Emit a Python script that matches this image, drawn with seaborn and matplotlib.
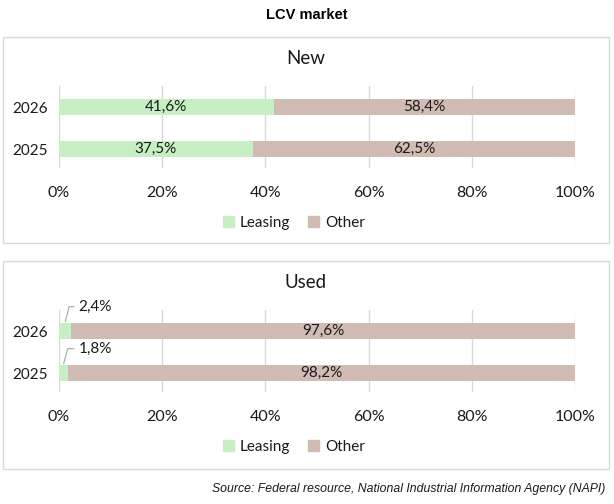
import matplotlib
matplotlib.use("Agg")
import matplotlib.pyplot as plt
from matplotlib.patches import Rectangle, Patch
import seaborn as sns
import pandas as pd

years = ["2026", "2025"]
new_leasing = [41.6, 37.5]
new_other = [58.4, 62.5]
used_leasing = [2.4, 1.8]
used_other = [97.6, 98.2]
x_ticks = [0, 20, 40, 60, 80, 100]

green_color = "#C6EFC3"
other_color = "#D0BCB5"
grid_color = "#D9D9D9"
text_color = "#1a1a1a"

sns.set_theme(style="white")
plt.rcParams["font.family"] = ["Lato", "DejaVu Sans"]

W, H = 614, 504
fig = plt.figure(figsize=(W / 100, H / 100), dpi=100)


def fx(px):
    return px / W


def fy(px):
    return 1 - px / H


def pct(v):
    return f"{v:.1f}%".replace(".", ",")


def panel(box_top, box_bot, title, leasing, other, small):
    fig.patches.append(Rectangle((fx(3), fy(box_bot)), fx(606), (box_bot - box_top) / H,
                                 transform=fig.transFigure, fill=False,
                                 edgecolor=grid_color, linewidth=1))
    ax_top = box_top + 49
    ax_bot = box_top + 131
    ax = fig.add_axes([fx(59), fy(ax_bot), fx(575 - 59), (ax_bot - ax_top) / H])
    df = pd.DataFrame({"year": years, "leasing": leasing, "other": other})
    df["total"] = df["leasing"] + df["other"]
    sns.barplot(data=df, x="total", y="year", order=years, orient="h",
                color=other_color, width=0.4, saturation=1, linewidth=0, ax=ax, zorder=2)
    sns.barplot(data=df, x="leasing", y="year", order=years, orient="h",
                color=green_color, width=0.4, saturation=1, linewidth=0, ax=ax, zorder=3)
    ax.set_xlim(0, 100)
    ax.set_ylim(1.45, -0.5)
    ax.set_xticks(x_ticks)
    ax.set_xticklabels([f"{t}%" for t in x_ticks], fontsize=11.5, color=text_color)
    ax.tick_params(axis="x", length=0, pad=13)
    ax.tick_params(axis="y", length=0, pad=8, labelsize=11, labelcolor=text_color)
    ax.set_xlabel("")
    ax.set_ylabel("")
    for s in ax.spines.values():
        s.set_visible(False)
    ax.grid(axis="x", color=grid_color, linewidth=1, zorder=0)
    ax.set_axisbelow(True)
    for i, (l, o) in enumerate(zip(leasing, other)):
        if small:
            ax.annotate(pct(l), xy=(l / 2, i - 0.22), xytext=(3.8, i - 0.58),
                        fontsize=11, color=text_color, va="center", ha="left",
                        arrowprops=dict(arrowstyle="-", color="#A6A6A6", lw=0.8,
                                        connectionstyle="angle,angleA=0,angleB=75,rad=0",
                                        shrinkA=1, shrinkB=0))
        else:
            ax.text(l / 2, i, pct(l), ha="center", va="center", fontsize=11,
                    color=text_color, zorder=4)
        ax.text(l + o / 2, i, pct(o), ha="center", va="center", fontsize=11,
                color=text_color, zorder=4)
    fig.text(fx(306), fy(box_top + 21), title, ha="center", va="center",
             fontsize=13.5, color=text_color)
    handles = [Patch(color=green_color, label="Leasing"), Patch(color=other_color, label="Other")]
    fig.legend(handles=handles, loc="center", bbox_to_anchor=(fx(294), fy(box_top + 186)),
               ncol=2, frameon=False, fontsize=11, handlelength=0.7, handleheight=0.7,
               handletextpad=0.4, columnspacing=1.2, labelcolor=text_color)
    return ax


panel(37, 243, "New", new_leasing, new_other, False)
panel(261, 469, "Used", used_leasing, used_other, True)

fig.text(0.5, fy(15), "LCV market", ha="center", va="center", fontsize=10.5,
         fontweight="bold", family=["Liberation Sans", "DejaVu Sans"], color="black")
fig.text(fx(605), fy(489), "Source: Federal resource, National Industrial Information Agency (NAPI)",
         ha="right", va="center", fontsize=8.8, style="italic",
         family=["Liberation Sans", "DejaVu Sans"], color=text_color)

fig.savefig("out.png", dpi=100, facecolor="white")
